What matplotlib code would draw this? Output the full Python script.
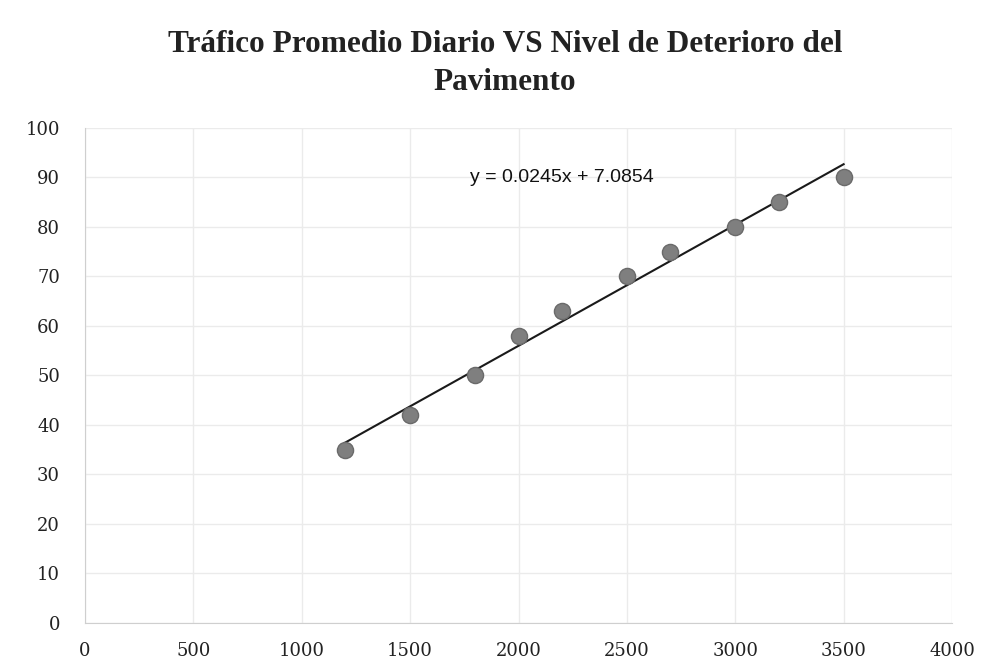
# Scatter of daily traffic vs pavement deterioration with linear trendline
import numpy as np
import matplotlib.pyplot as plt

# Data
trafico = [1200, 1500, 1800, 2000, 2200, 2500, 2700, 3000, 3200, 3500]
deterioro = [35, 42, 50, 58, 63, 70, 75, 80, 85, 90]
x_ticks = [0, 500, 1000, 1500, 2000, 2500, 3000, 3500, 4000]
y_ticks = [0, 10, 20, 30, 40, 50, 60, 70, 80, 90, 100]
titulo = 'Tráfico Promedio Diario VS Nivel de Deterioro del\nPavimento'

# Linear fit (Excel style trendline)
m, b = np.polyfit(trafico, deterioro, 1)
x_fit = np.array([min(trafico), max(trafico)])
y_fit = m * x_fit + b

fig = plt.figure(figsize=(9.9, 6.69), dpi=100)
ax = fig.add_axes([0.0859, 0.0688, 0.8757, 0.7399])

ax.plot(x_fit, y_fit, color='#1a1a1a', linewidth=1.5, zorder=2)
ax.scatter(trafico, deterioro, s=135, color='#7f7f7f', edgecolors='#6a6a6a',
           linewidths=1, zorder=3)

ax.text(2200, 90, 'y = %.4fx + %.4f' % (m, b), ha='center', va='center',
        fontsize=14, family='Liberation Sans', color='#111111')

ax.set_xlim(0, 4000)
ax.set_ylim(0, 100)
ax.set_xticks(x_ticks)
ax.set_yticks(y_ticks)
ax.grid(True, color='#ebebeb', linewidth=1)
ax.set_axisbelow(True)
ax.tick_params(length=0, labelsize=13, colors='#222222')
ax.tick_params(axis='x', pad=14)
ax.tick_params(axis='y', pad=18)
for lab in ax.get_xticklabels() + ax.get_yticklabels():
    lab.set_family('DejaVu Serif')

for side in ['top', 'right']:
    ax.spines[side].set_visible(False)
for side in ['left', 'bottom']:
    ax.spines[side].set_color('#cfcfcf')

fig.text(0.51, 0.905, titulo, ha='center', va='center', fontsize=22.5,
         fontweight='bold', family='Liberation Serif', color='#222222', linespacing=1.4)

plt.savefig('out.png', dpi=100)
